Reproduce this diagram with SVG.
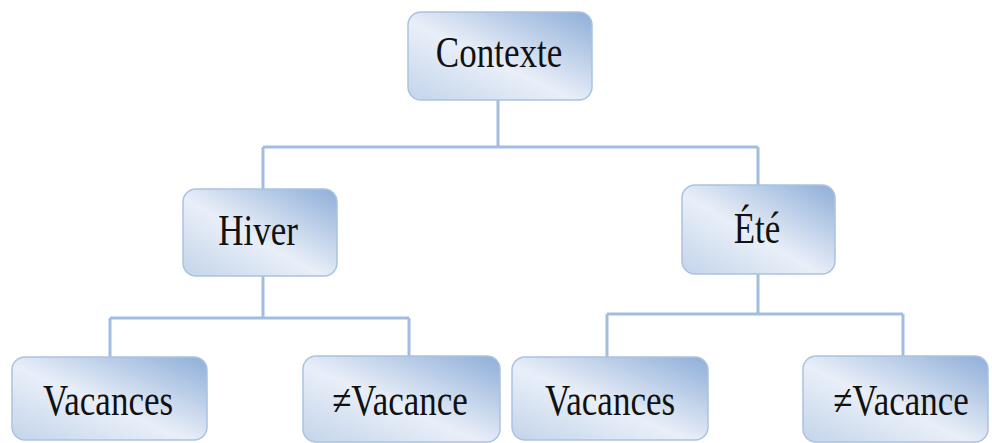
<svg xmlns="http://www.w3.org/2000/svg" width="992" height="443" viewBox="0 0 992 443">
  <defs>
    <linearGradient id="boxFill" x1="0" y1="1" x2="1" y2="0">
      <stop offset="0" stop-color="#c3d4ea"/>
      <stop offset="0.45" stop-color="#e9eff8"/>
      <stop offset="1" stop-color="#8eaed8"/>
    </linearGradient>
  </defs>
  <style>
    .box { fill: url(#boxFill); stroke: #abc2e0; stroke-width: 1.5; }
    .lbl { font-family: "Liberation Serif", "Times New Roman", serif; font-size: 35px; fill: #111; text-anchor: middle; }
    .wire { fill: none; stroke: #a3bde0; stroke-width: 3; }
  </style>
  <rect width="992" height="443" fill="#ffffff"/>

  <g id="connectors">
    <path class="wire" d="M498 100 V147 M263 147 H758 M263 147 V189 M758 147 V185"/>
    <path class="wire" d="M263 276 V318 M110 318 H409 M110 318 V357 M409 318 V356"/>
    <path class="wire" d="M758 274 V314 M607 314 H903 M607 314 V357 M903 314 V356"/>
  </g>

  <g id="contexte">
    <rect class="box" x="408" y="12" width="184" height="88" rx="13"/>
    <text class="lbl" transform="translate(499,67) scale(1,1.25)">Contexte</text>
  </g>

  <g id="hiver">
    <rect class="box" x="183" y="189" width="154" height="87" rx="13"/>
    <text class="lbl" transform="translate(258,245) scale(1,1.25)">Hiver</text>
  </g>

  <g id="ete">
    <rect class="box" x="682" y="185" width="153" height="89" rx="13"/>
    <text class="lbl" transform="translate(757,243) scale(1,1.25)">Été</text>
  </g>

  <g id="hiver-vacances">
    <rect class="box" x="12" y="357" width="195" height="83" rx="13"/>
    <text class="lbl" transform="translate(108,415) scale(1,1.25)">Vacances</text>
  </g>

  <g id="hiver-non-vacance">
    <rect class="box" x="303" y="356" width="197" height="86" rx="13"/>
    <text class="lbl" transform="translate(400,415) scale(1,1.25)">≠Vacance</text>
  </g>

  <g id="ete-vacances">
    <rect class="box" x="512" y="357" width="196" height="83" rx="13"/>
    <text class="lbl" transform="translate(610,415) scale(1,1.25)">Vacances</text>
  </g>

  <g id="ete-non-vacance">
    <rect class="box" x="803" y="356" width="185" height="86" rx="13"/>
    <text class="lbl" transform="translate(901,415) scale(1,1.25)">≠Vacance</text>
  </g>
</svg>
